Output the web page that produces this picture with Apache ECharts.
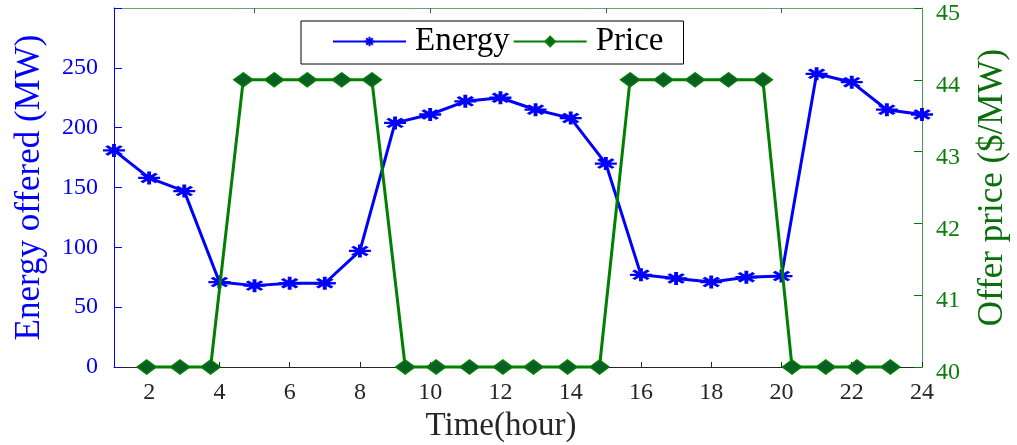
<!DOCTYPE html>
<html>
<head>
<meta charset="utf-8">
<script src="https://cdn.jsdelivr.net/npm/echarts@6/dist/echarts.min.js"></script>
<style>
  html, body { margin: 0; padding: 0; background: #fff; }
  #chart { width: 1017px; height: 445px; }
</style>
</head>
<body>
<div id="chart"></div>
<script>
// Hourly offered energy (left axis) and offer price (right axis)
const hours = [1, 2, 3, 4, 5, 6, 7, 8, 9, 10, 11, 12, 13, 14, 15, 16, 17, 18, 19, 20, 21, 22, 23, 24];
const energy = [181, 158, 147, 71, 68, 70, 70, 97, 204, 211, 222, 225, 215, 208, 170, 77, 74, 71, 75, 76, 245, 238, 215, 211];
const priceHours = [1.93, 2.88, 3.75, 4.68, 5.56, 6.50, 7.48, 8.34, 9.29, 10.17, 11.12, 12.07, 12.94, 13.91, 14.82, 15.69, 16.64, 17.54, 18.49, 19.47, 20.30, 21.26, 22.15, 23.10];
const price = [40, 40, 40, 44, 44, 44, 44, 44, 40, 40, 40, 40, 40, 40, 40, 44, 44, 44, 44, 44, 40, 40, 40, 40];
const xTicks = [2, 4, 6, 8, 10, 12, 14, 16, 18, 20, 22, 24];
const topTicks = [5, 10, 15, 20];

const FONT = 'Liberation Serif';
const BLUE = '#0000ff';
const GREEN = '#008000';
// asterisk marker: horizontal, vertical and both diagonals
const STAR = 'path://M0,5L10,5M5,0L5,10M1.6,1.6L8.4,8.4M1.6,8.4L8.4,1.6';

const chart = echarts.init(document.getElementById('chart'));
chart.setOption({
  animation: false,
  grid: { left: 114, right: 95, top: 8, bottom: 78, containLabel: false, outerBoundsMode: 'none' },
  legend: {
    left: 301, top: 21,
    padding: [4, 20, 6, 31],
    itemGap: 3,
    itemWidth: 73, itemHeight: 12,
    borderColor: '#000', borderWidth: 1,
    backgroundColor: '#fff',
    textStyle: { fontFamily: FONT, fontSize: 33, color: '#000', padding: [0, 0, 0, 4] },
    data: ['Energy', 'Price']
  },
  xAxis: [{
    type: 'value', min: 1, max: 24,
    name: 'Time(hour)', nameLocation: 'middle', nameGap: 39,
    nameTextStyle: { fontFamily: FONT, fontSize: 33, color: '#262626', padding: [0, 34, 0, 0] },
    axisLine: { lineStyle: { color: '#262626', width: 1 } },
    axisTick: { inside: true, length: 5, customValues: xTicks, lineStyle: { color: '#262626' } },
    axisLabel: { customValues: xTicks, fontFamily: FONT, fontSize: 24, color: '#262626', margin: 14 },
    splitLine: { show: false }
  }, {
    type: 'value', min: 1, max: 24, position: 'top',
    axisLine: { lineStyle: { color: '#5fa86f', width: 1 } },
    axisTick: { inside: true, length: 5, customValues: topTicks, lineStyle: { color: '#555' } },
    axisLabel: { show: false },
    splitLine: { show: false }
  }],
  yAxis: [{
    type: 'value', min: 0, max: 300, interval: 50,
    name: 'Energy offered (MW)', nameLocation: 'middle', nameGap: 67, nameRotate: 90,
    nameTextStyle: { fontFamily: FONT, fontSize: 35, color: BLUE },
    axisLine: { show: true, lineStyle: { color: BLUE, width: 1 } },
    axisTick: { show: true, inside: true, length: 8, lineStyle: { color: BLUE } },
    axisLabel: {
      fontFamily: FONT, fontSize: 24, color: BLUE, margin: 16,
      formatter: v => (v === 300 ? '' : String(v))
    },
    splitLine: { show: false }
  }, {
    type: 'value', min: 40, max: 45, interval: 1, position: 'right',
    name: 'Offer price ($/MW)', nameLocation: 'middle', nameGap: 53, nameRotate: 90,
    nameTextStyle: { fontFamily: FONT, fontSize: 35, color: '#0a6e0a' },
    axisLine: { show: true, lineStyle: { color: '#3f9a4f', width: 1 } },
    axisTick: { show: true, inside: true, length: 8, lineStyle: { color: GREEN } },
    axisLabel: {
      fontFamily: FONT, fontSize: 24, color: '#0b7d0b', margin: 14,
      verticalAlign: 'top', lineHeight: 12
    },
    splitLine: { show: false }
  }],
  series: [{
    name: 'Energy', type: 'line',
    xAxisIndex: 0, yAxisIndex: 0,
    data: hours.map((h, i) => [h, energy[i]]),
    symbol: STAR, symbolSize: [22, 13], symbolKeepAspect: false,
    showAllSymbol: true, clip: false,
    lineStyle: { color: BLUE, width: 3 },
    itemStyle: { color: BLUE, borderColor: BLUE, borderWidth: 3 },
    z: 2
  }, {
    name: 'Price', type: 'line',
    xAxisIndex: 0, yAxisIndex: 1,
    data: priceHours.map((h, i) => [h, price[i]]),
    symbol: 'diamond', symbolSize: [19, 14],
    showAllSymbol: true, clip: false,
    lineStyle: { color: GREEN, width: 3 },
    itemStyle: { color: '#0b5e24', borderColor: GREEN, borderWidth: 1.5 },
    z: 3
  }]
});
</script>
</body>
</html>
